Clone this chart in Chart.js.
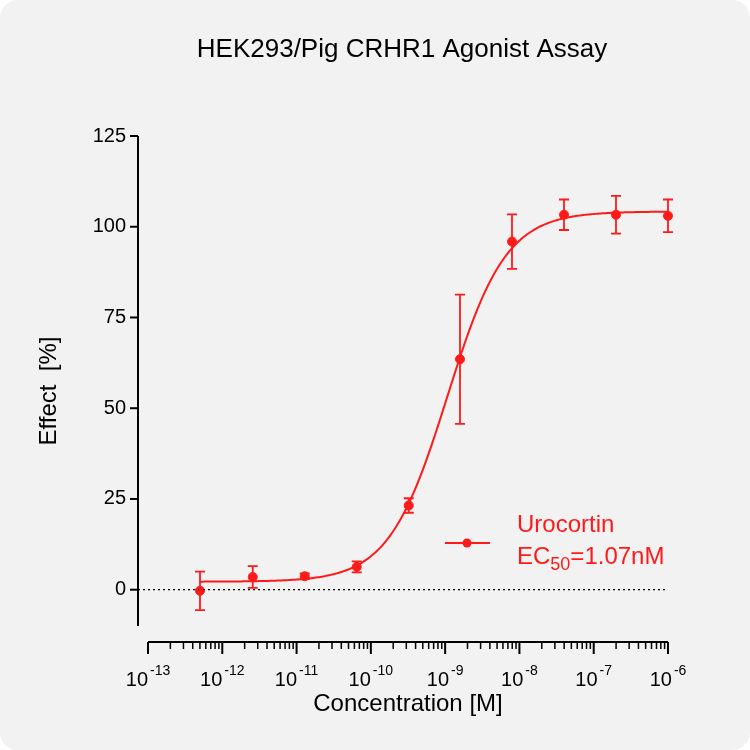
<!DOCTYPE html>
<html lang="en">
<head>
<meta charset="UTF-8" />
<script src="https://cdn.jsdelivr.net/npm/chart.js"></script>
<title>HEK293/Pig CRHR1 Agonist Assay</title>
<style>
  html, body { margin: 0; background: #fff; }
  #wrap { width: 750px; height: 750px; background: #f2f2f2; border-radius: 18px; overflow: hidden; }
</style>
</head>
<body>
<div id="wrap"><canvas id="c" width="750" height="750"></canvas></div>
<script>
const logConc = [-12.3, -11.59, -10.89, -10.19, -9.49, -8.8, -8.1, -7.4, -6.7, -6.0]
const effect = [-0.3, 3.5, 3.7, 6.3, 23.2, 63.5, 95.9, 103.3, 103.3, 103.0]
const errors = [5.3, 3.0, 0.8, 1.5, 2.0, 17.8, 7.5, 4.2, 5.2, 4.5]
const xTicks = [-13, -12, -11, -10, -9, -8, -7, -6]
const yTicks = [0, 25, 50, 75, 100, 125]
// fitted 4PL parameters
const fitBottom = 2.2, fitTop = 104.2, fitLogEC50 = Math.log10(1.07e-9), fitHill = 1.1

const curve = []
for (let x = -12.3; x <= -6.0001; x += 0.02) {
  curve.push({ x, y: fitBottom + (fitTop - fitBottom) / (1 + Math.pow(10, (fitLogEC50 - x) * fitHill)) })
}
curve.push({ x: -6, y: fitBottom + (fitTop - fitBottom) / (1 + Math.pow(10, (fitLogEC50 + 6) * fitHill)) })

const red = '#ff1a1a'
const FONT = '"Liberation Sans", Arial, sans-serif'

const decor = {
  id: 'decor',
  afterDraw(chart) {
    const ctx = chart.ctx, xs = chart.scales.x, ys = chart.scales.y
    ctx.save()
    ctx.strokeStyle = '#000'; ctx.lineWidth = 2
    const ax = xs.left - 10, ay = ys.bottom + 16
    ctx.beginPath(); ctx.moveTo(ax, ys.top); ctx.lineTo(ax, ys.bottom); ctx.stroke()
    yTicks.forEach(v => { const p = ys.getPixelForValue(v); ctx.beginPath(); ctx.moveTo(ax - 8, p); ctx.lineTo(ax, p); ctx.stroke() })
    ctx.beginPath(); ctx.moveTo(xs.left, ay); ctx.lineTo(xs.right, ay); ctx.stroke()
    xTicks.forEach((v, i) => {
      const p = xs.getPixelForValue(v)
      ctx.lineWidth = 2; ctx.beginPath(); ctx.moveTo(p, ay); ctx.lineTo(p, ay + 12); ctx.stroke()
      if (i < xTicks.length - 1) for (let k = 2; k <= 9; k++) {
        const q = xs.getPixelForValue(v + Math.log10(k))
        ctx.lineWidth = 1.5; ctx.beginPath(); ctx.moveTo(q, ay); ctx.lineTo(q, ay + 7); ctx.stroke()
      }
    })
    ctx.setLineDash([2, 3]); ctx.lineWidth = 1.2
    const z = ys.getPixelForValue(0)
    ctx.beginPath(); ctx.moveTo(ax, z); ctx.lineTo(xs.right, z); ctx.stroke()
    ctx.setLineDash([])
    // error bars
    ctx.strokeStyle = red; ctx.lineWidth = 1.8
    logConc.forEach((x, i) => {
      const px = xs.getPixelForValue(x)
      const t = ys.getPixelForValue(effect[i] + errors[i]), b = ys.getPixelForValue(effect[i] - errors[i])
      ctx.beginPath(); ctx.moveTo(px, t); ctx.lineTo(px, b)
      ctx.moveTo(px - 5, t); ctx.lineTo(px + 5, t); ctx.moveTo(px - 5, b); ctx.lineTo(px + 5, b); ctx.stroke()
    })
    // tick labels
    ctx.fillStyle = '#000'; ctx.font = '20px ' + FONT; ctx.textAlign = 'right'; ctx.textBaseline = 'middle'
    yTicks.forEach(v => ctx.fillText(String(v), ax - 12, ys.getPixelForValue(v)))
    ctx.textAlign = 'left'; ctx.textBaseline = 'alphabetic'
    xTicks.forEach(v => {
      ctx.font = '20px ' + FONT
      const bw = ctx.measureText('10').width
      ctx.font = '14px ' + FONT
      const ew = ctx.measureText(String(v)).width
      const x0 = xs.getPixelForValue(v) - (bw + ew + 2) / 2
      ctx.font = '20px ' + FONT; ctx.fillText('10', x0, ay + 44)
      ctx.font = '14px ' + FONT; ctx.fillText('-' + String(-v), x0 + bw + 2, ay + 33)
    })
    ctx.textAlign = 'center'
    ctx.font = '24px ' + FONT
    ctx.fillText('Concentration [M]', (xs.left + xs.right) / 2, 711)
    ctx.font = '26px ' + FONT
    ctx.fillText('HEK293/Pig CRHR1 Agonist Assay', 402, 57)
    ctx.font = '24px ' + FONT
    ctx.save(); ctx.translate(56, (ys.top + ys.bottom) / 2 + 10); ctx.rotate(-Math.PI / 2)
    ctx.fillText('Effect  [%]', 0, 0); ctx.restore()
    // legend
    ctx.strokeStyle = red; ctx.fillStyle = red; ctx.lineWidth = 2
    ctx.beginPath(); ctx.moveTo(445, 543); ctx.lineTo(490, 543); ctx.stroke()
    ctx.beginPath(); ctx.arc(467, 543, 4.5, 0, Math.PI * 2); ctx.fill()
    ctx.textAlign = 'left'; ctx.font = '24px ' + FONT
    ctx.fillText('Urocortin', 517, 532)
    ctx.fillText('EC', 517, 564)
    let w = ctx.measureText('EC').width
    ctx.font = '18px ' + FONT; ctx.fillText('50', 517 + w, 570)
    w += ctx.measureText('50').width
    ctx.font = '24px ' + FONT; ctx.fillText('=1.07nM', 517 + w, 564)
    ctx.restore()
  }
}

new Chart(document.getElementById('c').getContext('2d'), {
  type: 'scatter',
  data: {
    datasets: [
      { type: 'line', data: curve, borderColor: red, borderWidth: 2, pointRadius: 0, tension: 0, clip: false },
      { data: logConc.map((x, i) => ({ x, y: effect[i] })), backgroundColor: red, borderColor: red, pointRadius: 4.5, clip: false },
    ],
  },
  options: {
    responsive: false,
    animation: false,
    layout: { padding: { top: 136, right: 82, bottom: 0, left: 0 } },
    plugins: { legend: { display: false }, tooltip: { enabled: false } },
    scales: {
      x: { type: 'linear', min: -13, max: -6, grid: { display: false }, border: { display: false }, ticks: { display: false },
           afterFit: (s) => { s.height = 124 } },
      y: { min: -10, max: 125, grid: { display: false }, border: { display: false }, ticks: { display: false },
           afterFit: (s) => { s.width = 148 } },
    },
  },
  plugins: [decor],
})
</script>
</body>
</html>
